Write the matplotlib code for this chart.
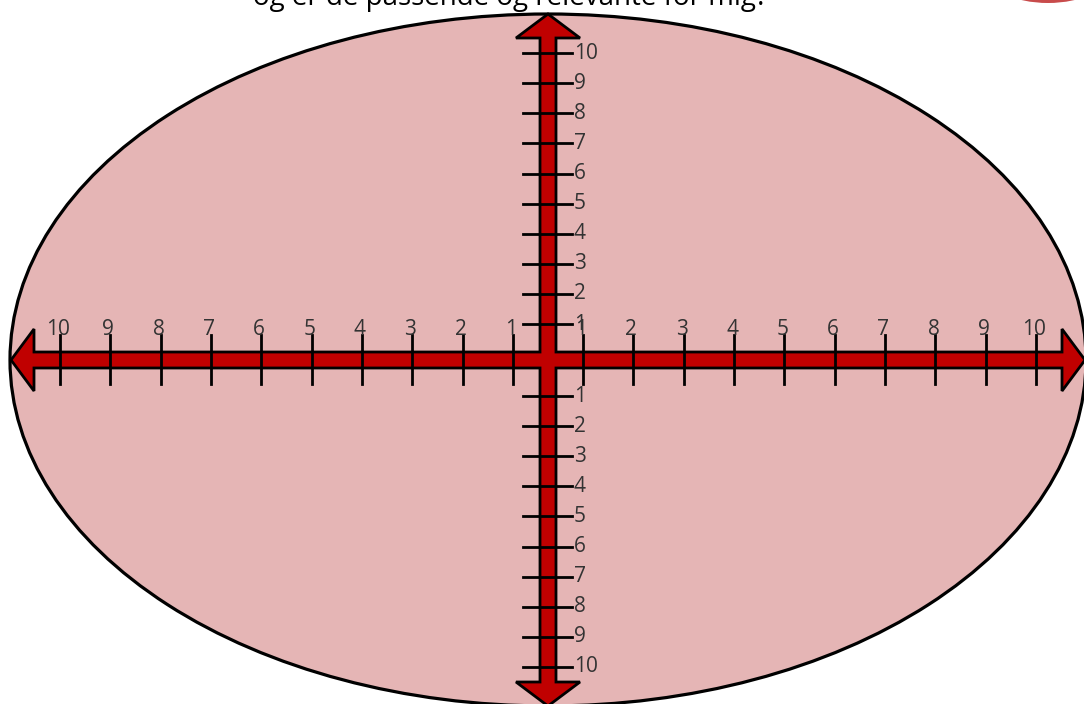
import matplotlib.pyplot as plt
from matplotlib.patches import Ellipse, Polygon, Circle

# scale values shown on each axis
x_values = [-10, -9, -8, -7, -6, -5, -4, -3, -2, -1, 1, 2, 3, 4, 5, 6, 7, 8, 9, 10]
y_values = [10, 9, 8, 7, 6, 5, 4, 3, 2, 1, -1, -2, -3, -4, -5, -6, -7, -8, -9, -10]
x_labels = [str(abs(v)) for v in x_values]
y_labels = [str(abs(v)) for v in y_values]
title = 'og er de passende og relevante for mig?'

plt.rcParams['font.family'] = ['Open Sans', 'DejaVu Sans']

fill_col = '#E5B5B5'
arrow_col = '#C00000'

fig = plt.figure(figsize=(10.84, 7.04), dpi=100)
ax = fig.add_axes([0, 0, 1, 1])
ax.set_xlim(-548, 536)
ax.set_ylim(-344, 360)
ax.axis('off')


def xpos(v):
    s = 1 if v > 0 else -1
    return s * (35 + (abs(v) - 1) * 50.35)


def ypos(v):
    s = 1 if v > 0 else -1
    return s * (36 + (abs(v) - 1) * 30.1)


ax.add_patch(Ellipse((0, 0), 1076, 692, facecolor=fill_col,
                     edgecolor='black', lw=2.3, zorder=1))

# cross of double arrows, one outline
hw, H, hx, tx = 8, 31, 514, 537
V, vy, ty = 32, 322, 346
pts = [(tx, 0), (hx, H), (hx, hw), (hw, hw), (hw, vy), (V, vy), (0, ty),
       (-V, vy), (-hw, vy), (-hw, hw), (-hx, hw), (-hx, H), (-tx, 0),
       (-hx, -H), (-hx, -hw), (-hw, -hw), (-hw, -vy), (-V, -vy), (0, -ty),
       (V, -vy), (hw, -vy), (hw, -hw), (hx, -hw), (hx, -H)]
ax.add_patch(Polygon(pts, closed=True, facecolor=arrow_col,
                     edgecolor='black', lw=2.0, joinstyle='miter', zorder=2))

for v, lab in zip(x_values, x_labels):
    x = xpos(v)
    ax.plot([x, x], [-24, 25], color='black', lw=2.0, zorder=3)
    ax.text(x - 2, 20, lab, ha='center', va='bottom', fontsize=15,
            color='#333333', zorder=4)

for v, lab in zip(y_values, y_labels):
    y = ypos(v)
    ax.plot([-25, 24], [y, y], color='black', lw=2.0, zorder=3)
    ax.text(26, y, lab, ha='left', va='center', fontsize=15,
            color='#333333', zorder=4)

# cut-off heading and logo at top
ax.text(-38, 362, title, ha='center', va='center', fontsize=20,
        color='black', zorder=4)
ax.add_patch(Circle((500, 480), 123, facecolor='#C84B4B',
                    edgecolor='none', zorder=1))

fig.savefig('out.png', dpi=100)
